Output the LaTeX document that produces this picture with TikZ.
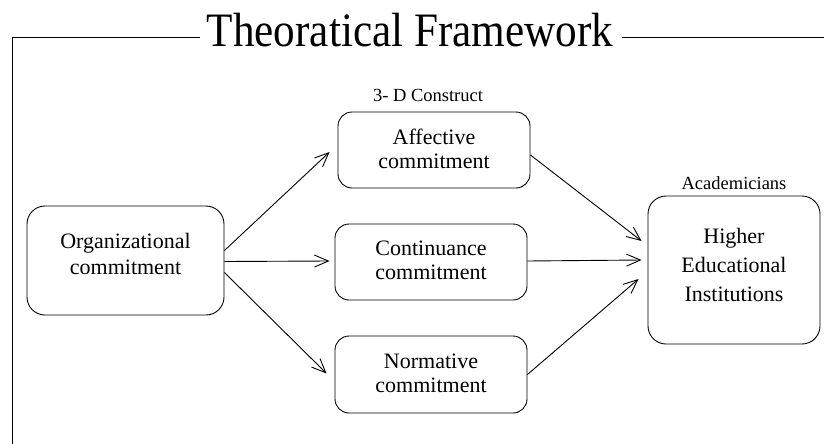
\documentclass[tikz,border=0pt]{standalone}
\usepackage{fontspec}
\setmainfont{Liberation Serif}
\usetikzlibrary{arrows.meta}
\begin{document}
\begin{tikzpicture}[x=1pt,y=-1pt,line width=0.9pt,
  box/.style={draw,rounded corners=18pt,align=center,inner sep=0pt,
    font=\fontsize{22}{24}\selectfont},
  lbl/.style={font=\fontsize{18.5}{20}\selectfont,inner sep=0pt},
  arr/.style={-{Straight Barb[length=14pt,width=12pt]}}]
\useasboundingbox (0,0) rectangle (824,444);
\node[font=\fontsize{48}{50}\selectfont,inner sep=0pt,xscale=0.9] (title) at (410,30) {Theoratical Framework};
\draw (12,444) -- (12,37) -- (200,37);
\draw (622,37) -- (824,37);
\node[box,minimum width=197pt,minimum height=109pt,text depth=14pt,font=\fontsize{22}{26}\selectfont] (org) at (125.5,260.5) {Organizational\\commitment};
\node[box,minimum width=192pt,minimum height=76pt,rounded corners=14pt,text depth=3pt] (aff) at (434,150) {Affective\\commitment};
\node[box,minimum width=192pt,minimum height=76pt,rounded corners=14pt,text depth=3pt] (cont) at (431,262) {Continuance\\commitment};
\node[box,minimum width=192pt,minimum height=77pt,rounded corners=14pt,text depth=3pt] (norm) at (431,374.5) {Normative\\commitment};
\node[box,minimum width=172pt,minimum height=148pt,font=\fontsize{22}{29}\selectfont,text depth=10pt] (hei) at (734,270) {Higher\\Educational\\Institutions};
\node[lbl] (cons) at (428,95) {3- D Construct};
\node[lbl] (acad) at (734,183) {Academicians};
\draw[arr] ([yshift=10pt]org.east) -- ([xshift=-8pt,yshift=-2pt]aff.west);
\draw[arr] ([yshift=-1pt]org.east) -- ([xshift=-5pt,yshift=1pt]cont.west);
\draw[arr] ([yshift=-12pt]org.east) -- ([xshift=-8pt,yshift=1pt]norm.west);
\draw[arr] ([yshift=-5pt]aff.east) -- ([xshift=-6pt,yshift=29pt]hei.west);
\draw[arr] ([yshift=1pt]cont.east) -- ([xshift=-6pt,yshift=10pt]hei.west);
\draw[arr] (norm.east) -- ([xshift=-9pt,yshift=-9pt]hei.west);
\end{tikzpicture}
\end{document}
